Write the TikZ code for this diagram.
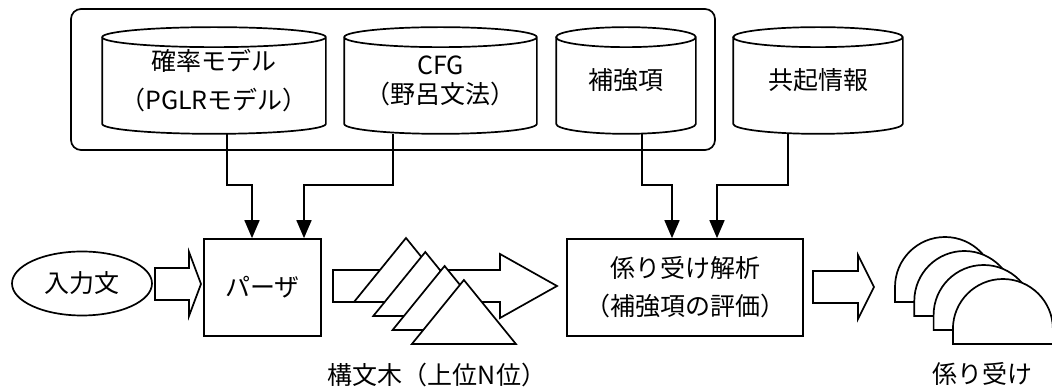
\documentclass[tikz,border=0pt]{standalone}
\usepackage{fontspec}
\setmainfont{Noto Sans CJK JP}
\usepackage{tikz}
\usetikzlibrary{shapes.geometric,arrows.meta,calc}
\pgfdeclarelayer{background}
\pgfdeclarelayer{foreground}
\pgfsetlayers{background,main,foreground}

\newcommand{\fatarrow}[4]{%
\draw[fill=white] (#1,#4+16) -- (#2,#4+16) -- (#2,#4+32) -- (#3,#4) -- (#2,#4-32) -- (#2,#4-16) -- (#1,#4-16) -- cycle;}

\begin{document}
\begin{tikzpicture}[x=1pt,y=1pt,
  every path/.style={line width=1.7pt},
  every node/.style={font=\fontsize{25}{29}\selectfont},
  db/.style={minimum height=105pt,inner sep=0pt,align=center},
  box/.style={draw,minimum height=97pt,inner sep=0pt,align=center},
  conn/.style={-{Triangle[length=18pt,width=15pt]}}]
\useasboundingbox (0,0) rectangle (1052,390);

\node[db,minimum width=222pt] (prob) at (214,309.5) {確率モデル\\[10pt]（PGLRモデル）};
\node[db,minimum width=191pt] (cfg) at (440.5,309.5) {CFG\\（野呂文法）};
\node[db,minimum width=138pt] (hokyo) at (626,309.5) {補強項};
\node[db,minimum width=168pt] (kyoki) at (818,309.5) {共起情報};

\node[draw,ellipse,minimum width=140pt,minimum height=64pt,inner sep=0pt] (input) at (82,106.5) {入力文};
\node[box,minimum width=117pt] (parser) at (262.5,102.5) {パーザ};
\node[box,minimum width=236pt] (dep) at (685,102.5) {係り受け解析\\[9pt]（補強項の評価）};

\node (treelabel) at (437,15) {構文木（上位N位）};
\node (deplabel) at (982,16) {係り受け};

\begin{pgfonlayer}{background}
\draw[rounded corners=10pt] (71,240) rectangle (715,381);
\draw[conn] ([xshift=13pt]prob.south) -- ++(0,-51) -| ([xshift=-10.5pt]parser.north);
\draw[conn] ([xshift=-47.5pt]cfg.south) -- ++(0,-51) -| ([xshift=41.5pt]parser.north);
\draw[conn] ([xshift=16pt]hokyo.south) -- ++(0,-51) -| ([xshift=-13pt]dep.north);
\draw[conn] ([xshift=-30pt]kyoki.south) -- ++(0,-51) -| ([xshift=32pt]dep.north);
\foreach \db in {prob,cfg,hokyo,kyoki}
  \draw[fill=white] let \p1=(\db.north west), \p2=(\db.south east), \n1={(\x2-\x1)/2} in
    (\x1,\y1-10pt) -- (\x1,\y2+10pt)
    arc[start angle=180,end angle=360,x radius=\n1,y radius=10pt]
    -- (\x2,\y1-10pt)
    arc[start angle=0,end angle=180,x radius=\n1,y radius=10pt]
    arc[start angle=180,end angle=360,x radius=\n1,y radius=10pt];
\end{pgfonlayer}

\fatarrow{155}{189}{201}{106}
\fatarrow{333}{500}{557}{104}
\fatarrow{813}{858}{874}{103}

\begin{pgfonlayer}{foreground}
\foreach \i in {0,...,3}
  \draw[fill=white] ({406+19.3*\i},{152-14*\i}) -- ++(-52,-64) -- ++(104,0) -- cycle;
\foreach \i in {0,...,3}
  \draw[fill=white] ({895+19.3*\i},{88-14*\i}) -- ++(0,15)
    arc[start angle=180,end angle=0,radius=50pt] -- ++(0,-15) -- cycle;
\end{pgfonlayer}
\end{tikzpicture}
\end{document}
